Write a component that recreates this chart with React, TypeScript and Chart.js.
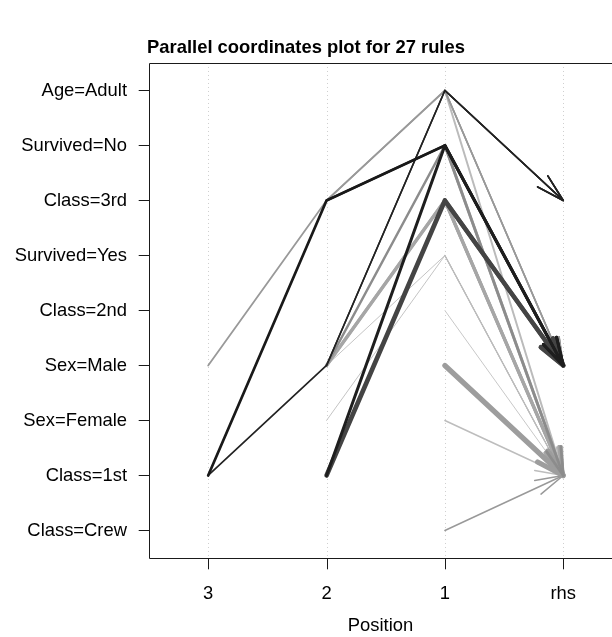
import React, { useEffect, useRef } from "react";
import { Chart, registerables } from "chart.js";

Chart.register(...registerables);

const FONT = "'Liberation Sans', Arial, Helvetica, sans-serif";
const FS = 18.4;

// x positions (lhs positions counted from rhs, then rhs)
const positions = ["3", "2", "1", "rhs"];

// items on the y axis, bottom to top
const items = [
  "Class=Crew",
  "Class=1st",
  "Sex=Female",
  "Sex=Male",
  "Class=2nd",
  "Survived=Yes",
  "Class=3rd",
  "Survived=No",
  "Age=Adult",
];

// rules: item at lhs position 3, 2, 1 and rhs (null = no item)
const lhs3 = [
  null, "Class=1st", "Class=1st", null, null, null, null, null, null,
  null, null, "Sex=Male", null, null, null, null, null, null,
  null, null, null, null, null, null, null, null, null,
];
const lhs2 = [
  "Class=1st", "Class=3rd", "Sex=Male", "Class=1st", "Class=3rd", "Sex=Male", null, null, null,
  "Sex=Male", null, "Class=3rd", "Class=3rd", null, null, null, "Sex=Male", "Sex=Male",
  null, null, null, null, null, null, "Sex=Male", "Sex=Female", null,
];
const lhs1 = [
  "Survived=No", "Survived=No", "Age=Adult", "Class=3rd", "Survived=No", "Age=Adult", "Age=Adult", "Class=3rd", "Survived=No",
  "Survived=No", "Survived=No", "Age=Adult", "Age=Adult", "Age=Adult", "Class=Crew", "Sex=Male", "Class=3rd", "Class=3rd",
  "Class=3rd", "Class=3rd", "Age=Adult", "Survived=Yes", "Survived=Yes", "Sex=Female", "Survived=Yes", "Survived=Yes", "Class=2nd",
];
const rhs = [
  "Sex=Male", "Sex=Male", "Class=3rd", "Sex=Male", "Sex=Male", "Class=3rd", "Class=3rd", "Sex=Male", "Sex=Male",
  "Class=1st", "Class=1st", "Sex=Male", "Sex=Male", "Sex=Male", "Class=1st", "Class=1st", "Class=1st", "Class=1st",
  "Class=1st", "Class=1st", "Class=1st", "Class=1st", "Class=1st", "Class=1st", "Class=1st", "Class=1st", "Class=1st",
];
// lift -> grey shade, support -> line width
const lift = [
  2.65, 2.7, 2.6, 2.2, 2.6, 2.55, 2.5, 2.0, 2.5,
  1.35, 1.2, 1.2, 1.2, 1.25, 1.2, 1.15, 1.05, 1.0,
  1.1, 1.0, 0.8, 0.8, 0.75, 0.78, 0.7, 0.7, 0.65,
];
const support = [
  0.30, 0.27, 0.17, 0.46, 0.22, 0.15, 0.15, 0.40, 0.30,
  0.25, 0.30, 0.18, 0.15, 0.14, 0.15, 0.52, 0.34, 0.30,
  0.30, 0.25, 0.20, 0.14, 0.10, 0.15, 0.10, 0.10, 0.10,
];

const TITLE = `Parallel coordinates plot for ${rhs.length} rules`;

function greyFor(l: number): string {
  const g = Math.max(0, Math.min(255, Math.round(255 * (1 - l / 3))));
  return `rgb(${g},${g},${g})`;
}
function widthFor(s: number): number {
  return s * 10;
}

const arrowPlugin = {
  id: "arrowHeads",
  afterDatasetDraw(chart: any, args: any) {
    const pts = args.meta.data;
    if (!pts || pts.length < 2) return;
    const ds = chart.data.datasets[args.index];
    const a = pts[pts.length - 2];
    const b = pts[pts.length - 1];
    const ang = Math.atan2(b.y - a.y, b.x - a.x);
    const len = 29;
    const spread = Math.PI / 12;
    const ctx = chart.ctx;
    ctx.save();
    ctx.strokeStyle = ds.borderColor;
    ctx.lineWidth = ds.borderWidth;
    ctx.lineCap = "round";
    ctx.lineJoin = "round";
    ctx.beginPath();
    ctx.moveTo(b.x - len * Math.cos(ang - spread), b.y - len * Math.sin(ang - spread));
    ctx.lineTo(b.x, b.y);
    ctx.lineTo(b.x - len * Math.cos(ang + spread), b.y - len * Math.sin(ang + spread));
    ctx.stroke();
    ctx.restore();
  },
};

const framePlugin = {
  id: "rFrame",
  beforeDatasetsDraw(chart: any) {
    const { ctx, chartArea, scales } = chart;
    const { left, top, bottom } = chartArea;
    const x = scales.x;
    const y = scales.y;
    const W = chart.width;
    ctx.save();
    // dotted vertical guides
    ctx.strokeStyle = "#cfcfcf";
    ctx.lineWidth = 1;
    ctx.setLineDash([1, 3]);
    positions.forEach((_, i) => {
      const px = Math.round(x.getPixelForValue(i)) + 0.5;
      ctx.beginPath();
      ctx.moveTo(px, top);
      ctx.lineTo(px, bottom);
      ctx.stroke();
    });
    ctx.setLineDash([]);
    // frame
    const L = Math.round(left) + 0.5;
    const T = Math.round(top) + 0.5;
    const B = Math.round(bottom) + 0.5;
    ctx.strokeStyle = "#1a1a1a";
    ctx.beginPath();
    ctx.moveTo(W, T);
    ctx.lineTo(L, T);
    ctx.lineTo(L, B);
    ctx.lineTo(W, B);
    ctx.stroke();
    // tick marks
    const tl = 10.8;
    items.forEach((_, i) => {
      const py = Math.round(y.getPixelForValue(i)) + 0.5;
      ctx.beginPath();
      ctx.moveTo(L - tl, py);
      ctx.lineTo(L, py);
      ctx.stroke();
    });
    positions.forEach((_, i) => {
      const px = Math.round(x.getPixelForValue(i)) + 0.5;
      ctx.beginPath();
      ctx.moveTo(px, B);
      ctx.lineTo(px, B + tl);
      ctx.stroke();
    });
    ctx.restore();
  },
};

export default function App() {
  const ref = useRef<HTMLCanvasElement | null>(null);

  useEffect(() => {
    if (!ref.current) return;
    const datasets = rhs.map((r, i) => {
      const seq = [lhs3[i], lhs2[i], lhs1[i], r];
      const data = seq
        .map((it, p) => (it ? { x: p, y: items.indexOf(it) } : null))
        .filter((d) => d !== null);
      return {
        label: `rule ${i + 1}`,
        data,
        showLine: true,
        borderColor: greyFor(lift[i]),
        backgroundColor: greyFor(lift[i]),
        borderWidth: widthFor(support[i]),
        borderCapStyle: "round",
        borderJoinStyle: "round",
        pointRadius: 0,
        pointHoverRadius: 0,
        tension: 0,
        fill: false,
        clip: false,
      };
    });

    const chart = new Chart(ref.current, {
      type: "scatter",
      data: { datasets: datasets as any },
      plugins: [framePlugin, arrowPlugin],
      options: {
        responsive: false,
        animation: false,
        devicePixelRatio: 1,
        events: [],
        layout: { padding: 0 },
        plugins: {
          legend: { display: false },
          tooltip: { enabled: false },
          title: {
            display: true,
            text: TITLE,
            color: "#000",
            font: { family: FONT, size: FS, weight: "bold", lineHeight: 1.2 },
            padding: { top: 36.5, bottom: 4.4 },
          },
        },
        scales: {
          x: {
            type: "linear",
            min: -0.5,
            max: 3.412,
            grid: { display: false, drawTicks: false },
            border: { display: false },
            afterBuildTicks: (s: any) => {
              s.ticks = positions.map((_, i) => ({ value: i }));
            },
            afterFit: (s: any) => {
              s.height = 79;
            },
            ticks: {
              padding: 25,
              autoSkip: false,
              maxRotation: 0,
              color: "#000",
              font: { family: FONT, size: FS },
              callback: (v: any) => positions[v],
            },
            title: {
              display: true,
              text: "Position",
              color: "#000",
              font: { family: FONT, size: FS },
              padding: { top: 0, bottom: 0 },
            },
          },
          y: {
            type: "linear",
            min: -0.5,
            max: 8.5,
            grid: { display: false, drawTicks: false },
            border: { display: false },
            afterBuildTicks: (s: any) => {
              s.ticks = items.map((_, i) => ({ value: i }));
            },
            afterFit: (s: any) => {
              s.width = 149;
            },
            ticks: {
              padding: 22,
              autoSkip: false,
              color: "#000",
              font: { family: FONT, size: FS },
              callback: (v: any) => items[v],
            },
          },
        },
      } as any,
    });
    return () => chart.destroy();
  }, []);

  return (
    <div style={{ position: "absolute", left: 0, top: 0, width: 612, height: 637, background: "#fff" }}>
      <canvas ref={ref} width={612} height={637} />
    </div>
  );
}
